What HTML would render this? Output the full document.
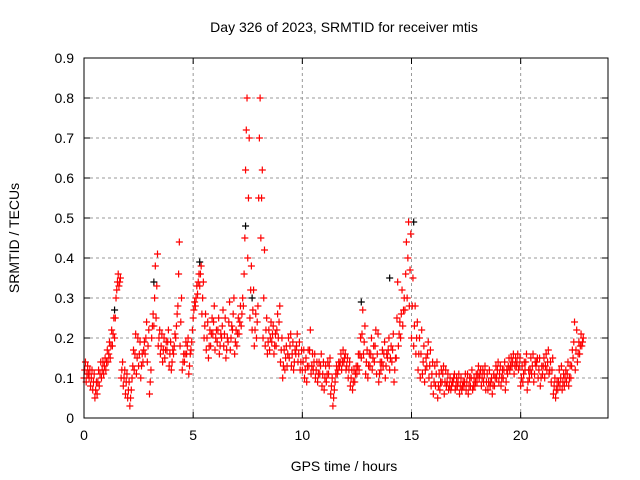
<!DOCTYPE html>
<html><head><meta charset="utf-8"><style>
html,body{margin:0;padding:0;background:#fff;}
svg{display:block;font-family:"Liberation Sans",sans-serif;}
</style></head><body>
<svg id="chart" width="640" height="480">
<text x="344" y="32" font-size="14" text-anchor="middle">Day 326 of 2023, SRMTID for receiver mtis</text>
<text x="344" y="471" font-size="14" text-anchor="middle">GPS time / hours</text>
<text x="19" y="238" font-size="14" text-anchor="middle" transform="rotate(-90 19 238)">SRMTID / TECUs</text>
<g id="grid"></g><g id="ticks"></g><g id="marks"></g>
<rect x="84" y="58" width="524" height="360" fill="none" stroke="#000"/>
</svg>
<script>
const xTicks=[0,5,10,15,20];
const yTicks=[0,0.1,0.2,0.3,0.4,0.5,0.6,0.7,0.8,0.9];
const yTickLabels=["0","0.1","0.2","0.3","0.4","0.5","0.6","0.7","0.8","0.9"];
const tStep=0.1;
const lowValues=[.10,.09,.11,.08,.07,.05,.06,.08,.10,.11,.12,.14,.15,.18,.20,.32,.33,.10,.08,.06,.05,.03,.10,.12,.11,.13,.10,.14,.16,.14,.06,.20,.23,.25,.18,.16,.14,.15,.17,.13,.12,.16,.20,.28,.18,.12,.14,.16,.11,.17,.25,.28,.31,.33,.26,.20,.17,.15,.18,.21,.17,.19,.16,.20,.18,.15,.19,.17,.22,.16,.18,.21,.23,.28,.62,.40,.25,.22,.18,.20,.55,.45,.20,.18,.16,.17,.19,.16,.18,.20,.14,.10,.12,.13,.15,.13,.12,.16,.14,.12,.12,.10,.09,.13,.11,.12,.10,.09,.11,.08,.07,.09,.11,.06,.03,.09,.11,.13,.12,.14,.12,.10,.08,.07,.09,.11,.12,.15,.16,.11,.10,.13,.12,.14,.11,.09,.12,.13,.10,.15,.12,.14,.09,.15,.18,.20,.23,.27,.30,.28,.20,.18,.16,.12,.10,.11,.09,.13,.10,.08,.06,.08,.05,.07,.09,.06,.08,.07,.07,.09,.07,.08,.06,.07,.08,.07,.06,.08,.07,.08,.09,.10,.08,.09,.07,.07,.08,.06,.08,.10,.09,.08,.10,.07,.11,.12,.13,.11,.13,.12,.08,.09,.12,.07,.10,.11,.09,.13,.10,.08,.11,.10,.12,.11,.09,.06,.05,.07,.08,.07,.08,.09,.08,.10,.15,.12,.14,.16,.18];
const midValues=[.12,.11,.10,.10,.09,.07,.09,.11,.12,.13,.14,.16,.18,.21,.25,.34,.34,.12,.10,.09,.07,.05,.13,.16,.15,.16,.13,.17,.20,.18,.09,.23,.30,.33,.20,.18,.17,.17,.19,.16,.14,.18,.23,.36,.24,.14,.16,.18,.13,.19,.27,.30,.34,.36,.30,.23,.20,.18,.21,.24,.20,.22,.18,.23,.21,.17,.24,.20,.26,.19,.21,.24,.26,.36,.72,.55,.32,.27,.22,.24,.70,.55,.30,.22,.19,.20,.21,.18,.22,.24,.17,.13,.15,.16,.18,.16,.14,.18,.16,.14,.14,.12,.13,.17,.13,.14,.12,.11,.13,.11,.10,.11,.13,.08,.05,.11,.12,.14,.14,.15,.13,.12,.10,.09,.11,.13,.16,.21,.19,.14,.13,.16,.15,.18,.16,.11,.14,.16,.13,.17,.15,.17,.12,.25,.21,.26,.27,.36,.40,.37,.28,.23,.20,.16,.16,.14,.12,.16,.13,.11,.09,.11,.08,.09,.11,.09,.09,.08,.08,.10,.08,.09,.08,.08,.09,.09,.08,.10,.08,.09,.11,.11,.10,.11,.09,.09,.09,.08,.10,.12,.11,.10,.12,.09,.13,.13,.14,.13,.14,.13,.10,.11,.14,.09,.12,.13,.11,.14,.12,.10,.13,.13,.14,.12,.12,.08,.07,.09,.10,.09,.10,.11,.10,.13,.19,.17,.16,.18,.19];
const highValues=[.14,.13,.12,.12,.11,.09,.12,.14,.14,.15,.17,.19,.22,.25,.30,.36,.35,.14,.12,.11,.09,.07,.17,.21,.20,.19,.16,.19,.24,.22,.12,.26,.38,.41,.22,.21,.20,.19,.22,.19,.17,.21,.26,.44,.30,.16,.19,.20,.16,.22,.29,.33,.36,.38,.34,.26,.24,.22,.25,.28,.22,.25,.21,.27,.25,.20,.29,.23,.30,.22,.25,.28,.30,.45,.80,.70,.38,.32,.26,.28,.80,.62,.42,.25,.22,.24,.23,.21,.26,.28,.20,.17,.18,.20,.21,.19,.17,.21,.19,.17,.17,.15,.17,.22,.16,.16,.14,.14,.16,.14,.13,.14,.15,.10,.07,.13,.14,.16,.17,.16,.15,.14,.12,.12,.13,.16,.20,.27,.23,.17,.16,.20,.18,.22,.21,.14,.17,.19,.16,.20,.18,.21,.15,.34,.24,.32,.30,.44,.49,.46,.35,.28,.24,.20,.22,.18,.15,.19,.17,.14,.13,.14,.11,.12,.13,.12,.11,.10,.09,.11,.10,.11,.10,.09,.11,.11,.10,.12,.10,.11,.13,.12,.12,.13,.11,.12,.10,.11,.13,.14,.13,.12,.14,.12,.15,.15,.16,.15,.16,.15,.13,.14,.16,.12,.15,.16,.14,.15,.15,.13,.15,.16,.17,.14,.15,.10,.09,.12,.13,.11,.12,.14,.13,.17,.24,.22,.19,.21,.20];
const blackTimes=[1.4,3.2,5.3,7.4,7.7,12.7,14.0,15.1];
const blackValues=[0.27,0.34,0.39,0.48,0.30,0.29,0.35,0.49];
const NS="http://www.w3.org/2000/svg";
const X0=84,X1=608,Y0=418,Y1=58,XMAX=24,YMAX=0.9;
function xs(t){return X0+(X1-X0)*t/XMAX;}
function ys(v){return Y0-(Y0-Y1)*v/YMAX;}
function mk(tag,attrs,parent){const e=document.createElementNS(NS,tag);for(const k in attrs)e.setAttribute(k,attrs[k]);parent.appendChild(e);return e;}
const grid=document.getElementById('grid'),ticks=document.getElementById('ticks'),marks=document.getElementById('marks');
xTicks.forEach(t=>{const x=xs(t);
 if(t>0){const g=mk('line',{x1:x,x2:x,y1:Y0,y2:Y1,stroke:'#999','stroke-dasharray':'3,3'},grid);
 
 }
 mk('line',{x1:x,x2:x,y1:Y0,y2:Y0-6,stroke:'#000'},ticks);
 mk('line',{x1:x,x2:x,y1:Y1,y2:Y1+6,stroke:'#000'},ticks);
 const l=mk('text',{x:x,y:Y0+22,'font-size':14,'text-anchor':'middle'},ticks);l.textContent=t;
 
 });
yTicks.forEach((v,i)=>{const y=ys(v);
 if(v>0&&v<YMAX){const g=mk('line',{x1:X0,x2:X1,y1:y,y2:y,stroke:'#999','stroke-dasharray':'3,3'},grid);
 
 }
 mk('line',{x1:X0,x2:X0+6,y1:y,y2:y,stroke:'#000'},ticks);
 mk('line',{x1:X1,x2:X1-6,y1:y,y2:y,stroke:'#000'},ticks);
 const l=mk('text',{x:X0-10,y:y+5,'font-size':14,'text-anchor':'end'},ticks);l.textContent=yTickLabels[i];
 
 });
function plus(t,v,color,name){const x=xs(t),y=ys(v);
 const p=mk('path',{d:`M${x-3.5},${y}h7M${x},${y-3.5}v7`,stroke:color,'stroke-width':1.2,fill:'none'},marks);
 
 }
blackTimes.forEach((t,i)=>plus(t,blackValues[i],'#000','srmtid-point-black'));
lowValues.forEach((v,i)=>plus(i*tStep,v,'#f00','srmtid-point'));
midValues.forEach((v,i)=>plus(i*tStep+tStep/3,v,'#f00','srmtid-point'));
highValues.forEach((v,i)=>plus(i*tStep+2*tStep/3,v,'#f00','srmtid-point'));
</script>
</body></html>
